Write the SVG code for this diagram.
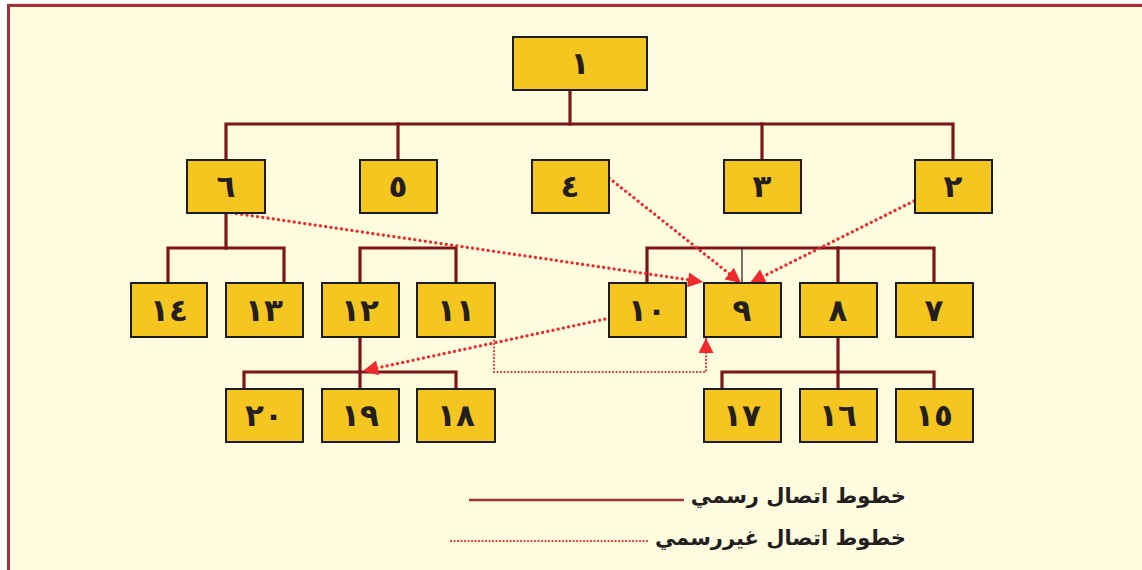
<svg xmlns="http://www.w3.org/2000/svg" width="1142" height="570" viewBox="0 0 1142 570">
<defs>
<style>
.box rect{fill:#f5c61f;stroke:#1c1c1c;stroke-width:2}
.box text{font-family:"DejaVu Sans",sans-serif;font-weight:bold;font-size:31px;fill:#231f20;text-anchor:middle}
.f{stroke:#7b1619;stroke-width:3.2;fill:none;stroke-linecap:square}
.thin{stroke:#1c1c1c;stroke-width:1.2;fill:none}
.inf{stroke:#ee2a2c;stroke-width:3.2;fill:none;stroke-dasharray:0.1 5.2;stroke-linecap:round}
.inf2{stroke:#ee2a2c;stroke-width:2.2;fill:none;stroke-dasharray:0.1 3.4;stroke-linecap:round}
.leg{font-family:"DejaVu Sans",sans-serif;font-weight:bold;font-size:21px;fill:#231f20;text-anchor:end}
</style>
<marker id="ah" viewBox="0 0 10 10" refX="10" refY="5" markerWidth="17" markerHeight="15" markerUnits="userSpaceOnUse" orient="auto">
<path d="M0,0 L10,5 L0,10 z" fill="#ee2a2c"/>
</marker>
</defs>
<rect x="0" y="0" width="1142" height="570" fill="#ffffff"/>
<line x1="7" y1="4" x2="1142" y2="4" stroke="#e3bcbc" stroke-width="1"/>
<rect x="8.5" y="5.5" width="1140" height="570" fill="#fffbdf" stroke="#a3313b" stroke-width="3"/>

<g id="connectors">
<polyline class="f" points="570,90 570,124"/>
<polyline class="f" points="226,160 226,124 953,124 953,160"/>
<line class="f" x1="398" y1="124" x2="398" y2="160"/>
<line class="f" x1="762" y1="124" x2="762" y2="160"/>
<polyline class="f" points="226,213 226,248"/>
<polyline class="f" points="168,283 168,248 284,248 284,283"/>
<polyline class="f" points="360,283 360,248 456,248 456,283"/>
<polyline class="f" points="647,283 647,248 934,248 934,283"/>
<line class="f" x1="838" y1="248" x2="838" y2="283"/>
<line class="thin" x1="742" y1="248" x2="742" y2="283"/>
<line class="f" x1="360" y1="337" x2="360" y2="389"/>
<polyline class="f" points="244,389 244,372 456,372 456,389"/>
<line class="f" x1="838" y1="337" x2="838" y2="389"/>
<polyline class="f" points="722,389 722,372 934,372 934,389"/>

<line class="inf" x1="226" y1="212" x2="703" y2="282" marker-end="url(#ah)"/>
<line class="inf" x1="609" y1="178" x2="741" y2="283" marker-end="url(#ah)"/>
<line class="inf" x1="914" y1="201" x2="750" y2="283" marker-end="url(#ah)"/>
<line class="inf" x1="610" y1="318" x2="363" y2="371" marker-end="url(#ah)"/>
<polyline class="inf2" points="494,337 494,372 706,372 706,338" marker-end="url(#ah)"/>
</g>

<g id="n1" class="box"><rect x="513" y="37" width="134" height="53"/><text x="580" y="74">١</text></g>
<g id="n6" class="box"><rect x="187" y="160" width="78" height="53"/><text x="226" y="197">٦</text></g>
<g id="n5" class="box"><rect x="360" y="160" width="77" height="53"/><text x="398" y="197">٥</text></g>
<g id="n4" class="box"><rect x="532" y="160" width="77" height="53"/><text x="570" y="197">٤</text></g>
<g id="n3" class="box"><rect x="724" y="160" width="77" height="53"/><text x="762" y="197">٣</text></g>
<g id="n2" class="box"><rect x="915" y="160" width="77" height="53"/><text x="953" y="197">٢</text></g>
<g id="n14" class="box"><rect x="131" y="283" width="76" height="54"/><text x="169" y="321">١٤</text></g>
<g id="n13" class="box"><rect x="226" y="283" width="77" height="54"/><text x="264" y="321">١٣</text></g>
<g id="n12" class="box"><rect x="322" y="283" width="77" height="54"/><text x="360" y="321">١٢</text></g>
<g id="n11" class="box"><rect x="417" y="283" width="78" height="54"/><text x="456" y="321">١١</text></g>
<g id="n10" class="box"><rect x="609" y="283" width="77" height="54"/><text x="647" y="321">١٠</text></g>
<g id="n9" class="box"><rect x="704" y="283" width="77" height="54"/><text x="742" y="321">٩</text></g>
<g id="n8" class="box"><rect x="800" y="283" width="77" height="54"/><text x="838" y="321">٨</text></g>
<g id="n7" class="box"><rect x="896" y="283" width="77" height="54"/><text x="934" y="321">٧</text></g>
<g id="n20" class="box"><rect x="226" y="389" width="77" height="53"/><text x="264" y="426">٢٠</text></g>
<g id="n19" class="box"><rect x="322" y="389" width="77" height="53"/><text x="360" y="426">١٩</text></g>
<g id="n18" class="box"><rect x="417" y="389" width="78" height="53"/><text x="456" y="426">١٨</text></g>
<g id="n17" class="box"><rect x="704" y="389" width="77" height="53"/><text x="742" y="426">١٧</text></g>
<g id="n16" class="box"><rect x="800" y="389" width="77" height="53"/><text x="838" y="426">١٦</text></g>
<g id="n15" class="box"><rect x="896" y="389" width="77" height="53"/><text x="934" y="426">١٥</text></g>

<g id="legend">
<line x1="469" y1="500" x2="684" y2="500" stroke="#a3313b" stroke-width="2.6"/>
<text class="leg" x="906" y="503">خطوط اتصال رسمي</text>
<line class="inf2" x1="451" y1="541" x2="648" y2="541"/>
<text class="leg" x="906" y="545">خطوط اتصال غيررسمي</text>
</g>
</svg>
